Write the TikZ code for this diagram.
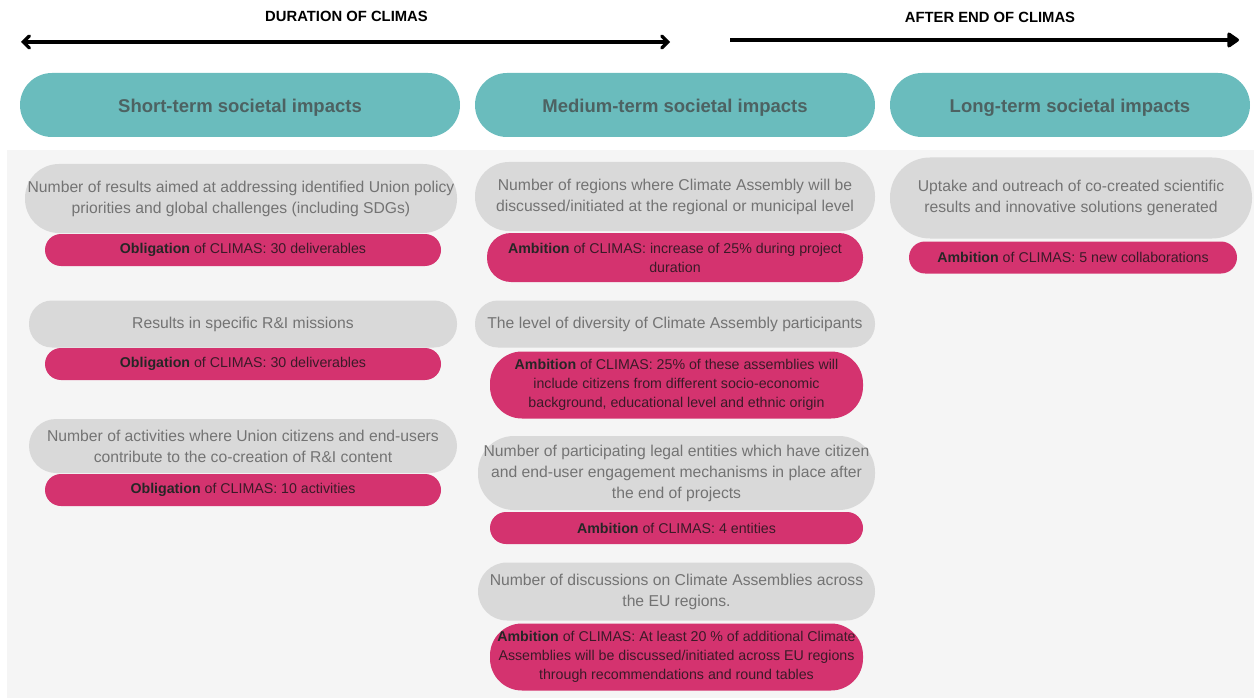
\documentclass[tikz,border=0pt]{standalone}
\usepackage{fontspec}
\setmainfont{Liberation Sans}
\newfontfamily\hdrfont{Liberation Sans Bold}
\usetikzlibrary{arrows.meta}
\definecolor{bgc}{HTML}{F5F5F5}
\definecolor{teal}{HTML}{6ABCBD}
\definecolor{teal text}{HTML}{4D6262}
\definecolor{gfill}{HTML}{D9D9D9}
\definecolor{gtext}{HTML}{737373}
\definecolor{pfill}{HTML}{D4336F}
\definecolor{ptext}{HTML}{3B1A28}
\tikzset{
  x=1pt,y=-1pt,
  hdr/.style={fill=teal,text=teal text,inner sep=0pt,font=\hdrfont\fontsize{18.5}{22}\selectfont,minimum height=64pt,rounded corners=32pt,text height=16pt,text depth=1.5pt},
  gpill/.style={fill=gfill,text=gtext,inner sep=0pt,align=center,font=\fontsize{15.7}{21}\selectfont},
  ppill/.style={fill=pfill,text=ptext,inner sep=0pt,align=center,font=\fontsize{14.2}{19}\selectfont},
  toptitle/.style={font=\hdrfont\fontsize{14.8}{16}\selectfont,text=black},
  timeline/.style={line width=3.3pt,black}
}
\newcommand{\obl}{\textbf{\color{black!85}Obligation}}
\newcommand{\amb}{\textbf{\color{black!85}Ambition}}
\begin{document}
\begin{tikzpicture}
\useasboundingbox (0,0) rectangle (1254,698);
\fill[bgc] (7,150) rectangle (1254,698);
% top titles and arrows
\node[toptitle] (dur) at (346.5,16.5) {DURATION OF CLIMAS};
\node[toptitle] (aft) at (990,17) {AFTER END OF CLIMAS};
\coordinate (dL) at (21,42);
\coordinate (dR) at (670,42);
\coordinate (aL) at (730,40);
\coordinate (aR) at (1239,40);
\draw[timeline,{Straight Barb[length=6pt,width=12pt,line cap=round]}-{Straight Barb[length=6pt,width=12pt,line cap=round]}] (dL) -- (dR);
\draw[timeline,-{Triangle[length=13pt,width=17pt,round]}] (aL) -- (aR);
% headers
\node[hdr,minimum width=440pt] (hs) at (240,105) {Short-term societal impacts};
\node[hdr,minimum width=400pt] (hm) at (675,105) {Medium-term societal impacts};
\node[hdr,minimum width=360pt] (hl) at (1070,105) {Long-term societal impacts};
% left column
\node[gpill,minimum width=432pt,minimum height=69pt,rounded corners=34pt] (s1) at (241,198.5) {Number of results aimed at addressing identified Union policy\\priorities and global challenges (including SDGs)};
\node[ppill,minimum width=396pt,minimum height=32pt,rounded corners=16pt] (s1p) at (243,250) {\obl{} of CLIMAS: 30 deliverables};
\node[gpill,minimum width=428pt,minimum height=47pt,rounded corners=23pt] (s2) at (243,324) {Results in specific R\&I missions};
\node[ppill,minimum width=396pt,minimum height=32pt,rounded corners=16pt] (s2p) at (243,364) {\obl{} of CLIMAS: 30 deliverables};
\node[gpill,minimum width=428pt,minimum height=54pt,rounded corners=27pt] (s3) at (243,446) {Number of activities where Union citizens and end-users\\contribute to the co-creation of R\&I content};
\node[ppill,minimum width=396pt,minimum height=32pt,rounded corners=16pt] (s3p) at (243,490) {\obl{} of CLIMAS: 10 activities};
% middle column
\node[gpill,minimum width=400pt,minimum height=69pt,rounded corners=34pt] (m1) at (675,196.5) {Number of regions where Climate Assembly will be\\discussed/initiated at the regional or municipal level};
\node[ppill,minimum width=376pt,minimum height=49pt,rounded corners=24pt] (m1p) at (675,257.5) {\amb{} of CLIMAS: increase of 25\% during project\\duration};
\node[gpill,minimum width=400pt,minimum height=47pt,rounded corners=23pt] (m2) at (675,324) {The level of diversity of Climate Assembly participants};
\node[ppill,minimum width=373pt,minimum height=67pt,rounded corners=32pt] (m2p) at (676.5,385) {\amb{} of CLIMAS: 25\% of these assemblies will\\include citizens from different socio-economic\\background, educational level and ethnic origin};
\node[gpill,minimum width=397pt,minimum height=74pt,rounded corners=36pt] (m3) at (676.5,473) {Number of participating legal entities which have citizen\\and end-user engagement mechanisms in place after\\the end of projects};
\node[ppill,minimum width=373pt,minimum height=32pt,rounded corners=16pt] (m3p) at (676.5,528) {\amb{} of CLIMAS: 4 entities};
\node[gpill,minimum width=397pt,minimum height=58pt,rounded corners=29pt] (m4) at (676.5,591.5) {Number of discussions on Climate Assemblies across\\the EU regions.};
\node[ppill,minimum width=373pt,minimum height=67pt,rounded corners=32pt] (m4p) at (676.5,657) {\amb{} of CLIMAS: At least 20 \% of additional Climate\\Assemblies will be discussed/initiated across EU regions\\through recommendations and round tables};
% right column
\node[gpill,minimum width=362pt,minimum height=81pt,rounded corners=40pt] (l1) at (1071,198) {Uptake and outreach of co-created scientific\\results and innovative solutions generated};
\node[ppill,minimum width=328pt,minimum height=32pt,rounded corners=16pt] (l1p) at (1073,257.5) {\amb{} of CLIMAS: 5 new collaborations};
\end{tikzpicture}
\end{document}
